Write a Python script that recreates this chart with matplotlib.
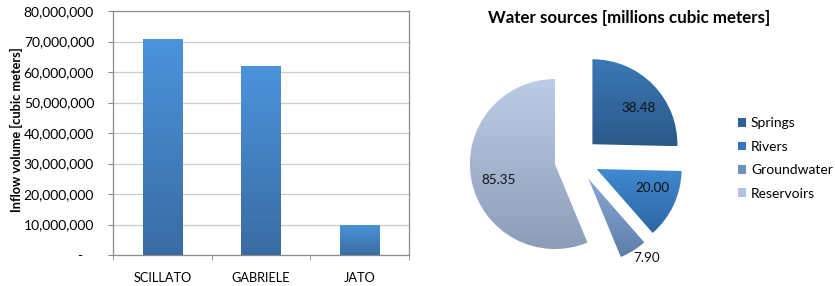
import numpy as np
import matplotlib
matplotlib.use('Agg')
import matplotlib.pyplot as plt
from matplotlib.colors import LinearSegmentedColormap
from matplotlib.patches import Patch
from matplotlib.ticker import FuncFormatter

## DATA
rivers_names = ['SCILLATO', 'GABRIELE', 'JATO']
inflow_volume = [70700000, 62100000, 10000000]

sources = ['Springs', 'Rivers', 'Groundwater', 'Reservoirs']
source_values = [38.48, 20.00, 7.90, 85.35]
# (top colour, bottom colour) for each gradient
source_colors = [('#3b78b6', '#2b5989'), ('#4089d0', '#2d66a3'),
                 ('#8ba8d4', '#5e7ea9'), ('#bdcce6', '#8c9db9')]
legend_colors = ['#2f6198', '#3577bb', '#7390bb', '#b3c3de']
bar_colors = ('#4b93dc', '#3a6ca3')

plt.rcParams['font.family'] = ['Lato', 'DejaVu Sans']

fig = plt.figure(figsize=(8.35, 2.86), dpi=100)

def gradient(ax, patch, top, bottom, extent):
    cmap = LinearSegmentedColormap.from_list('g', [bottom, top])
    grad = np.linspace(0, 1, 100).reshape(-1, 1)
    im = ax.imshow(grad, cmap=cmap, origin='lower', extent=extent,
                   aspect='auto', zorder=patch.get_zorder(), interpolation='bilinear')
    im.set_clip_path(patch)

## BAR CHART
ax = fig.add_axes([113/835, 31/286, 296/835, 244/286])
x = np.arange(len(rivers_names))
bars = ax.bar(x, inflow_volume, width=0.4, color='none', linewidth=0, zorder=3)
for b in bars:
    gradient(ax, b, bar_colors[0], bar_colors[1],
             (b.get_x(), b.get_x() + b.get_width(), 0, b.get_height()))
ax.set_xlim(-0.5, 2.5)
ax.set_ylim(0, 80000000)
ax.set_yticks(np.arange(0, 80000001, 10000000))
# accounting style: zero shown as a dash
ax.yaxis.set_major_formatter(FuncFormatter(lambda v, p: '-   ' if v == 0 else f'{int(v):,}'))
ax.set_xticks(x)
ax.set_xticklabels(rivers_names)
ax.set_xticks([-0.5, 0.5, 1.5, 2.5], minor=True)
ax.tick_params(axis='x', which='major', length=0, pad=12, labelsize=9.2)
ax.tick_params(axis='x', which='minor', length=3.6, color='#888888')
ax.tick_params(axis='y', length=3.6, color='#888888', pad=10, labelsize=10)
ax.grid(axis='y', color='#cccccc', linewidth=0.9, zorder=0)
ax.set_axisbelow(True)
for s in ax.spines.values():
    s.set_color('#8c8c8c')
    s.set_linewidth(0.9)
fig.text(16.5/835, 1 - 130/286, 'Inflow volume [cubic meters]', rotation=90,
         ha='center', va='center', fontweight='bold', fontsize=9.2)

## PIE CHART
r_px = 85.0
cx, cy = 576.6, 159.7
half = 120
pax = fig.add_axes([(cx - half)/835, (286 - cy - half)/286, 2*half/835, 2*half/286])
lim = half / r_px
wedges, _ = pax.pie(source_values, startangle=90, counterclock=False,
                    explode=[0.26]*4, radius=1, colors=['none']*4,
                    wedgeprops=dict(linewidth=0))

# label distance from wedge tip (in radii) and angle offset from the bisector
label_dist = [0.69, 0.695, 1.165, 0.69]
label_turn = [-6.4, 6.5, 4.5, 4.6]
for w, (top, bottom), val, d, t in zip(wedges, source_colors, source_values, label_dist, label_turn):
    bb = w.get_path().get_extents(w.get_patch_transform())
    gradient(pax, w, top, bottom, (bb.x0, bb.x1, bb.y0, bb.y1))
    ang = np.deg2rad((w.theta1 + w.theta2) / 2 + t)
    lx = w.center[0] + d * np.cos(ang)
    ly = w.center[1] + d * np.sin(ang)
    pax.text(lx, ly, f'{val:.2f}', ha='center', va='center', fontsize=9.7, color='#111111')
pax.set_xlim(-lim, lim)
pax.set_ylim(-lim, lim)
pax.set_aspect('equal')
pax.axis('off')

fig.text(629/835, 1 - 18/286, 'Water sources [millions cubic meters]', ha='center', va='center',
         fontsize=12.2, fontweight='bold')

handles = [Patch(facecolor=c, edgecolor='none') for c in legend_colors]
fig.legend(handles, sources, loc='center left', bbox_to_anchor=(738/835, 1 - 158.5/286),
           frameon=False, fontsize=10, handlelength=0.6, handleheight=0.6,
           handletextpad=0.33, labelspacing=0.82, borderpad=0, borderaxespad=0)

fig.savefig('out.png', dpi=100)
